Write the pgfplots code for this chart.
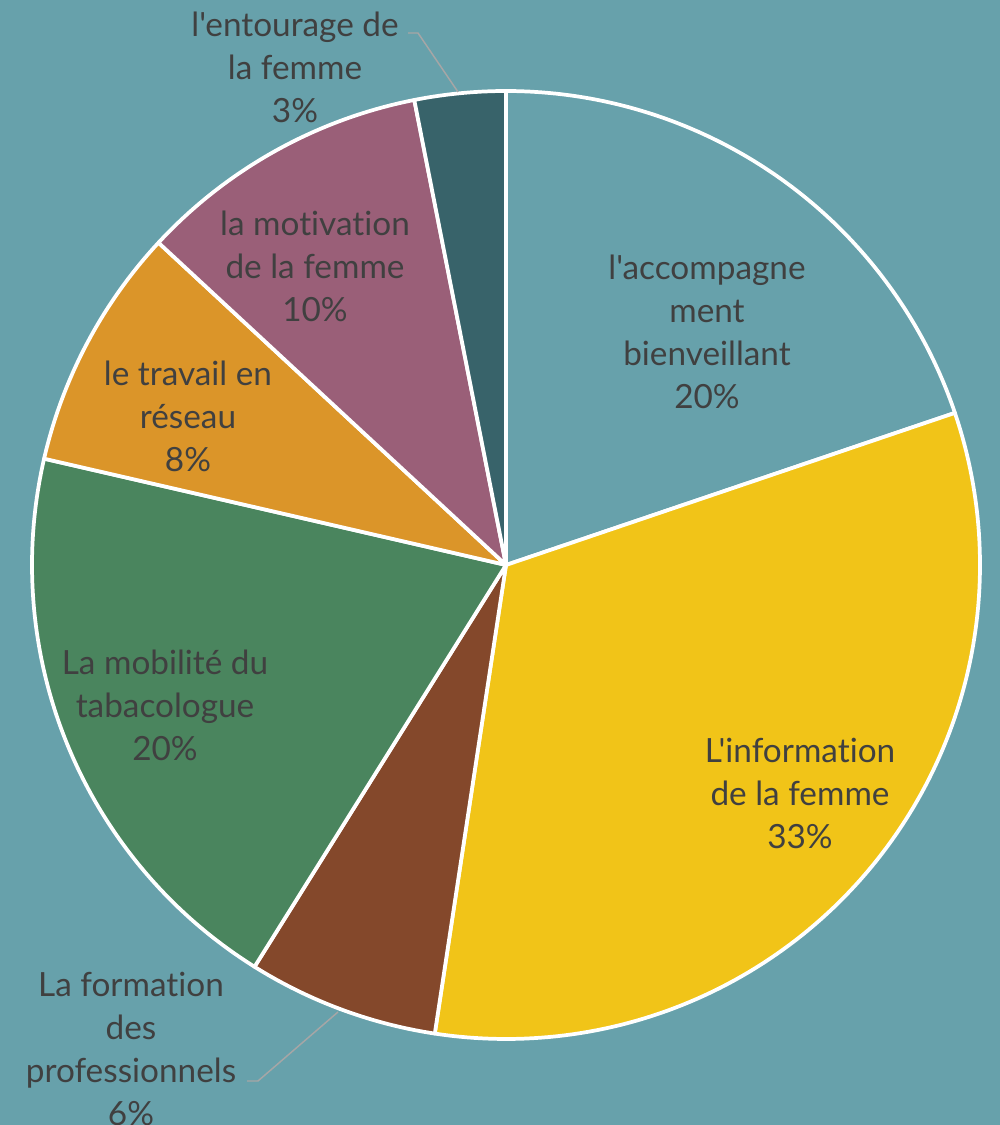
\documentclass[border=0pt]{standalone}
\usepackage{pgfplots}
\pgfplotsset{compat=1.18}
\usepackage{fontspec}
\setmainfont{Lato}[Ligatures={TeXOff,CommonOff}]
\definecolor{bg}{HTML}{67A1AB}
\definecolor{cA}{HTML}{67A1AB}
\definecolor{cB}{HTML}{F1C418}
\definecolor{cC}{HTML}{84482B}
\definecolor{cD}{HTML}{4A855E}
\definecolor{cE}{HTML}{DB9529}
\definecolor{cF}{HTML}{9A5F78}
\definecolor{cG}{HTML}{38636A}
\definecolor{txt}{HTML}{404040}
\definecolor{lead}{HTML}{A6A6A6}
\tikzset{lbl/.style={align=center, text=txt, inner sep=0pt, font=\fontsize{25}{32.25}\selectfont}}
% shares (percent), clockwise from 12 o'clock
\def\vA{19.8}\def\vB{32.6}\def\vC{6.5}\def\vD{19.7}\def\vE{8.3}\def\vF{10.0}\def\vG{3.1}
\pgfmathsetmacro\aA{90}
\pgfmathsetmacro\aB{\aA-3.6*\vA}
\pgfmathsetmacro\aC{\aB-3.6*\vB}
\pgfmathsetmacro\aD{\aC-3.6*\vC}
\pgfmathsetmacro\aE{\aD-3.6*\vD}
\pgfmathsetmacro\aF{\aE-3.6*\vE}
\pgfmathsetmacro\aG{\aF-3.6*\vF}
\pgfmathsetmacro\aH{\aG-3.6*\vG}
\def\cx{506}\def\cy{560}\def\R{474}
\newcommand{\slice}[3]{%
  \addplot[fill=#3, draw=white, line width=2.8pt, line join=round,
    domain=#2:#1, samples=120, variable=\t]
    ({\cx+\R*cos(\t)},{\cy+\R*sin(\t)}) -- (axis cs:\cx,\cy) -- cycle;}
\begin{document}
\begin{tikzpicture}
\begin{axis}[
  width=750pt, height=843.75pt, scale only axis,
  xmin=0, xmax=1000, ymin=0, ymax=1125,
  axis line style={draw=none}, ticks=none,
  axis background/.style={fill=bg},
  clip=false,
]
\slice{\aA}{\aB}{cA}
\slice{\aB}{\aC}{cB}
\slice{\aC}{\aD}{cC}
\slice{\aD}{\aE}{cD}
\slice{\aE}{\aF}{cE}
\slice{\aF}{\aG}{cF}
\slice{\aG}{\aH}{cG}
\draw[lead, line width=1.1pt] (axis cs:408,1092) -- (axis cs:418,1092) -- (axis cs:458,1033);
\draw[lead, line width=1.1pt] (axis cs:247,44) -- (axis cs:258,44) -- (axis cs:338,113);
\node[lbl] at (axis cs:707,793) {l'accompagne\\ment\\bienveillant\\20\%};
\node[lbl] at (axis cs:800,332) {L'information\\de la femme\\33\%};
\node[lbl] at (axis cs:131,76) {La formation\\des\\professionnels\\6\%};
\node[lbl] at (axis cs:165,420) {La mobilité du\\tabacologue\\20\%};
\node[lbl] at (axis cs:188,709) {le travail en\\réseau\\8\%};
\node[lbl] at (axis cs:315,859) {la motivation\\de la femme\\10\%};
\node[lbl] at (axis cs:295,1058) {l'entourage de\\la femme\\3\%};
\end{axis}
\pgfresetboundingbox
\path (current axis.south west) rectangle (current axis.north east);
\end{tikzpicture}
\end{document}
